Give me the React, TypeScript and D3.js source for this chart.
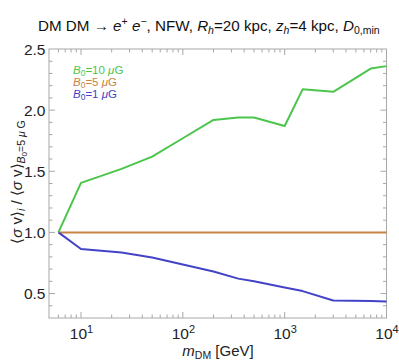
import { useRef, useEffect } from 'react';
import * as d3 from 'd3';

const masses = [6, 10, 25, 50, 100, 200, 350, 500, 1000, 1500, 3000, 7000, 10000];
const ratioB10 = [1.0, 1.405, 1.52, 1.62, 1.77, 1.92, 1.94, 1.94, 1.87, 2.17, 2.15, 2.34, 2.36];
const ratioB5 = [1.0, 1.0, 1.0, 1.0, 1.0, 1.0, 1.0, 1.0, 1.0, 1.0, 1.0, 1.0, 1.0];
const ratioB1 = [1.0, 0.864, 0.835, 0.794, 0.737, 0.68, 0.622, 0.6, 0.55, 0.52, 0.443, 0.44, 0.435];

const seriesNames = ['B10', 'B5', 'B1'];
const legendValues = ['10', '5', '1'];
const colors = ['#4cc54c', '#c88442', '#4343c8'];

const yMajor = [0.5, 1.0, 1.5, 2.0, 2.5];
const xMajor = [10, 100, 1000, 10000];

const width = 399;
const height = 364;
const margin = { left: 49, right: 12.5, top: 49, bottom: 46 };
const font = '"Liberation Sans", Arial, sans-serif';

const App = () => {
  const ref = useRef(null);

  useEffect(() => {
    const svg = d3.select(ref.current);
    svg.selectAll('*').remove();

    const x = d3
      .scaleLog()
      .domain([4.85, 10000])
      .range([margin.left, width - margin.right]);
    const y = d3
      .scaleLinear()
      .domain([0.3, 2.5])
      .range([height - margin.bottom, margin.top]);

    const x0 = margin.left;
    const x1 = width - margin.right;
    const y0 = height - margin.bottom;
    const y1 = margin.top;

    // frame
    svg
      .append('rect')
      .attr('x', x0)
      .attr('y', y1)
      .attr('width', x1 - x0)
      .attr('height', y0 - y1)
      .attr('fill', 'none')
      .attr('stroke', '#a8a8a8')
      .attr('stroke-width', 1);

    // ticks: minor ones every 0.1 and 1..9 per decade, inside the frame
    const ticks = svg.append('g').attr('stroke', '#a8a8a8').attr('stroke-width', 1);
    const yMinor = d3.range(4, 25).map(d => d / 10);
    yMinor.forEach(v => {
      const major = yMajor.some(m => Math.abs(m - v) < 1e-6);
      const len = major ? 6 : 3.5;
      ticks.append('line').attr('x1', x0).attr('x2', x0 + len).attr('y1', y(v)).attr('y2', y(v));
      ticks.append('line').attr('x1', x1).attr('x2', x1 - len).attr('y1', y(v)).attr('y2', y(v));
    });
    const xMinor = [];
    [1, 10, 100, 1000].forEach(dec => {
      for (let k = 1; k <= 9; k++) {
        const v = dec * k;
        if (v > 5.2 && v <= 10000) xMinor.push(v);
      }
    });
    xMinor.push(10000);
    xMinor.forEach(v => {
      const major = xMajor.includes(v);
      const len = major ? 6 : 3.5;
      ticks.append('line').attr('x1', x(v)).attr('x2', x(v)).attr('y1', y0).attr('y2', y0 - len);
      ticks.append('line').attr('x1', x(v)).attr('x2', x(v)).attr('y1', y1).attr('y2', y1 + len);
    });

    // tick labels
    const labels = svg.append('g').attr('font-family', font).attr('font-size', 15.5).attr('fill', '#222');
    yMajor.forEach(v => {
      labels
        .append('text')
        .attr('x', x0 - 3.5)
        .attr('y', y(v) + 5.5)
        .attr('text-anchor', 'end')
        .text(d3.format('.1f')(v));
    });
    xMajor.forEach(v => {
      const t = labels
        .append('text')
        .attr('x', x(v) + 0.5)
        .attr('y', y0 + 21)
        .attr('text-anchor', 'middle');
      t.append('tspan').text('10');
      t.append('tspan').attr('font-size', 11).attr('dy', -6.5).text(Math.round(Math.log10(v)));
    });

    // lines
    const allSeries = [ratioB10, ratioB5, ratioB1];
    const line = d3
      .line()
      .x(d => x(d[0]))
      .y(d => y(d[1]));
    const plot = svg.append('g');
    [1, 2, 0].forEach(i => {
      plot
        .append('path')
        .datum(masses.map((m, j) => [m, allSeries[i][j]]))
        .attr('class', seriesNames[i])
        .attr('fill', 'none')
        .attr('stroke', colors[i])
        .attr('stroke-width', 2)
        .attr('stroke-linejoin', 'round')
        .attr('d', line);
    });

    // legend
    const legend = svg.append('g').attr('font-family', font).attr('font-size', 11.5);
    legendValues.forEach((v, i) => {
      const t = legend
        .append('text')
        .attr('x', 73)
        .attr('y', 73.5 + i * 12)
        .attr('fill', colors[i]);
      t.append('tspan').attr('font-style', 'italic').text('B');
      t.append('tspan').attr('font-size', 8.5).attr('dy', 2.5).text('0');
      t.append('tspan').attr('dy', -2.5).text('=' + v + ' ');
      t.append('tspan').attr('font-style', 'italic').text('μ');
      t.append('tspan').text('G');
    });

    // title
    const title = svg
      .append('text')
      .attr('x', 38)
      .attr('y', 30.5)
      .attr('font-family', font)
      .attr('font-size', 15.2)
      .attr('fill', '#111');
    title.append('tspan').text('DM DM → ');
    title.append('tspan').attr('font-style', 'italic').text('e');
    title.append('tspan').attr('font-size', 10.5).attr('dy', -6).text('+');
    title.append('tspan').attr('dy', 6).text(' ');
    title.append('tspan').attr('font-style', 'italic').text('e');
    title.append('tspan').attr('font-size', 10.5).attr('dy', -6).text('−');
    title.append('tspan').attr('dy', 6).text(', NFW, ');
    title.append('tspan').attr('font-style', 'italic').text('R');
    title.append('tspan').attr('font-style', 'italic').attr('font-size', 10.5).attr('dy', 3).text('h');
    title.append('tspan').attr('dy', -3).text('=20 kpc, ');
    title.append('tspan').attr('font-style', 'italic').text('z');
    title.append('tspan').attr('font-style', 'italic').attr('font-size', 10.5).attr('dy', 3).text('h');
    title.append('tspan').attr('dy', -3).text('=4 kpc, ');
    title.append('tspan').attr('font-style', 'italic').text('D');
    title.append('tspan').attr('font-size', 10.5).attr('dy', 3).text('0,min');

    // x axis label
    const xl = svg
      .append('text')
      .attr('x', 218)
      .attr('y', 356)
      .attr('text-anchor', 'middle')
      .attr('font-family', font)
      .attr('font-size', 15)
      .attr('fill', '#222');
    xl.append('tspan').attr('font-style', 'italic').text('m');
    xl.append('tspan').attr('font-size', 10.5).attr('dy', 3).text('DM');
    xl.append('tspan').attr('dy', -3).text(' [GeV]');

    // y axis label
    const yl = svg
      .append('text')
      .attr('transform', `translate(22, 182) rotate(-90)`)
      .attr('text-anchor', 'middle')
      .attr('font-family', font)
      .attr('font-size', 15)
      .attr('fill', '#222');
    yl.append('tspan').text('⟨');
    yl.append('tspan').attr('font-style', 'italic').text('σ');
    yl.append('tspan').text(' v⟩');
    yl.append('tspan').attr('font-style', 'italic').attr('font-size', 10.5).attr('dy', 3).text('i');
    yl.append('tspan').attr('dy', -3).text(' / ⟨');
    yl.append('tspan').attr('font-style', 'italic').text('σ');
    yl.append('tspan').text(' v⟩');
    yl.append('tspan').attr('font-style', 'italic').attr('font-size', 10.5).attr('dy', 3).text('B');
    yl.append('tspan').attr('font-size', 8).attr('dy', 2).text('0');
    yl.append('tspan').attr('font-size', 10.5).attr('dy', -2).text('=5 ');
    yl.append('tspan').attr('font-style', 'italic').attr('font-size', 10.5).text('μ');
    yl.append('tspan').attr('font-size', 10.5).text(' G');
  }, []);

  return (
    <svg
      ref={ref}
      width={width}
      height={height}
      style={{ position: 'absolute', left: 0, top: 0, background: '#fff' }}
    />
  );
};

export default App;
